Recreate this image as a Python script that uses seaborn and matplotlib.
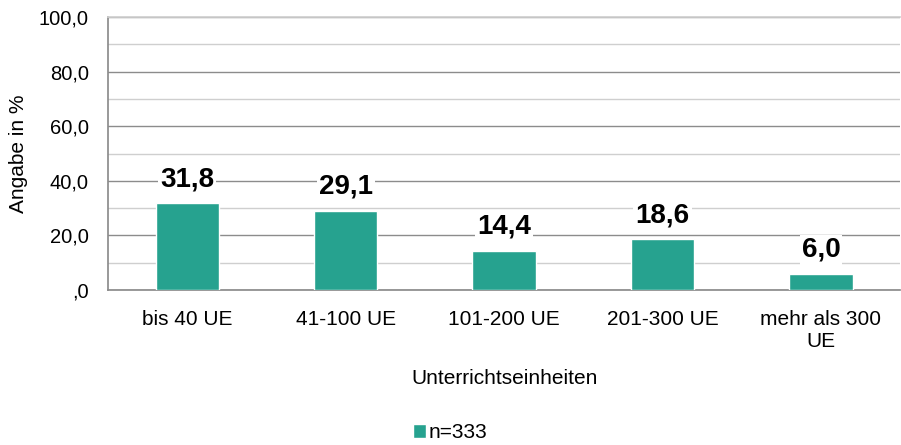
import numpy as np
import pandas as pd
import matplotlib
matplotlib.use("Agg")
import matplotlib.pyplot as plt
import seaborn as sns
from matplotlib.ticker import MultipleLocator, FuncFormatter
from matplotlib.patches import Patch

categories = ["bis 40 UE", "41-100 UE", "101-200 UE", "201-300 UE", "mehr als 300\nUE"]
values = [31.8, 29.1, 14.4, 18.6, 6.0]
series_label = "n=333"
bar_color = "#26A28F"

sns.set_theme(style="white")
plt.rcParams['font.family'] = ['Liberation Sans', 'DejaVu Sans']
plt.rcParams['text.color'] = 'black'

df = pd.DataFrame({"cat": categories, "val": values})

fig = plt.figure(figsize=(9.01, 4.45), dpi=100)
ax = fig.add_axes([0.12, 0.348, 0.879, 0.614])

sns.barplot(data=df, x="cat", y="val", color=bar_color, width=0.4, saturation=1, ax=ax, zorder=3)

ax.set_ylim(0, 100)
ax.set_xlim(-0.5, len(categories) - 0.5)
ax.yaxis.set_major_locator(MultipleLocator(20))
ax.yaxis.set_minor_locator(MultipleLocator(10))
ax.yaxis.set_major_formatter(FuncFormatter(lambda v, p: ",0" if v == 0 else f"{v:.1f}".replace(".", ",")))
ax.grid(axis="y", which="major", color="#8c8c8c", linewidth=1.0, zorder=0)
ax.grid(axis="y", which="minor", color="#cfcfcf", linewidth=1.0, zorder=0)
ax.set_axisbelow(True)

ax.spines["right"].set_visible(False)
ax.spines["left"].set_color("#8c8c8c")
ax.spines["bottom"].set_color("#8c8c8c")
ax.spines["top"].set_color("#cfcfcf")

ax.tick_params(axis="y", which="both", length=0, labelsize=14.5, pad=14, colors="black")
ax.tick_params(axis="x", length=0, labelsize=15, pad=14, colors="black")
ax.set_xlabel("Unterrichtseinheiten", fontsize=15, labelpad=13, color="black")
ax.set_ylabel("Angabe in %", fontsize=15, labelpad=8, color="black")

for i, v in enumerate(values):
    ax.text(i, v + 4.0, f"{v:.1f}".replace(".", ","), ha="center", va="bottom",
            fontsize=20, fontweight="bold", zorder=5, color="black",
            bbox=dict(facecolor="white", edgecolor="none", pad=1.5))

fig.legend(handles=[Patch(facecolor=bar_color, label=series_label)], loc="lower center",
           bbox_to_anchor=(0.5, -0.036), frameon=False, fontsize=15,
           handlelength=0.6, handleheight=0.6, handletextpad=0.15)

fig.savefig("out.png", dpi=100)
